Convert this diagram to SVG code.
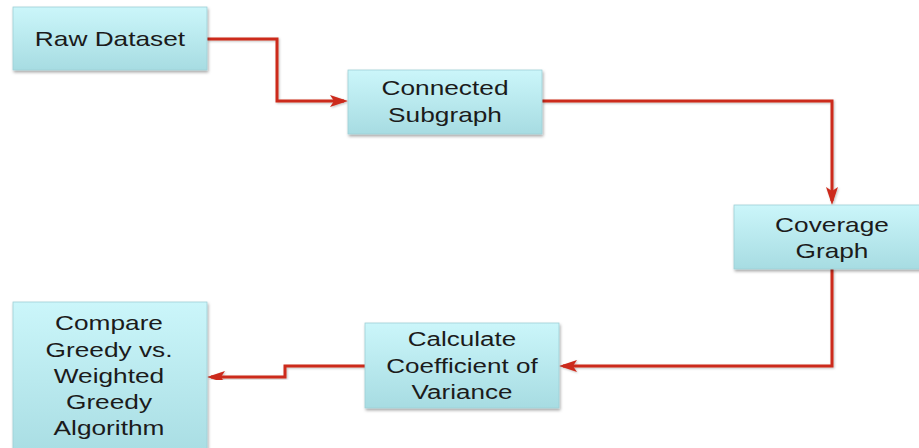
<svg xmlns="http://www.w3.org/2000/svg" width="919" height="448" viewBox="0 0 919 448">
  <defs>
    <linearGradient id="boxGrad" x1="0" y1="0" x2="0" y2="1">
      <stop offset="0" stop-color="#cbf6fa"/>
      <stop offset="1" stop-color="#a7dce2"/>
    </linearGradient>
    <filter id="shadow" x="-10%" y="-10%" width="130%" height="140%">
      <feDropShadow dx="1" dy="2" stdDeviation="1.5" flood-color="#000" flood-opacity="0.35"/>
    </filter>
    <filter id="lineShadow" x="-10%" y="-10%" width="130%" height="130%">
      <feDropShadow dx="1" dy="1" stdDeviation="0.8" flood-color="#000" flood-opacity="0.25"/>
    </filter>
    <marker id="arrow" markerUnits="userSpaceOnUse" markerWidth="20" markerHeight="14" viewBox="0 -7 18 14" refX="14" refY="0" orient="auto">
      <path d="M0,-6 L18,0 L0,6 L4,0 Z" fill="#cc2b1d"/>
    </marker>
  </defs>
  <style>
    .box { fill: url(#boxGrad); stroke: #9fcfd6; stroke-width: 0.8; filter: url(#shadow); }
    .label { font-family: "Liberation Sans", Arial, sans-serif; font-size: 21px; fill: #1b1b1b; text-anchor: middle; }
    .conn { fill: none; stroke: #cc2b1d; stroke-width: 3; stroke-linejoin: miter; marker-end: url(#arrow); filter: url(#lineShadow); }
  </style>
  <rect width="919" height="448" fill="#ffffff"/>

  <g id="connectors">
    <path class="conn" d="M207,39 H277 V101 H344"/>
    <path class="conn" d="M542,101 H832 V201"/>
    <path class="conn" d="M832,269 V366 H563"/>
    <path class="conn" d="M365,366 H285 V377 H211"/>
  </g>

  <g id="raw-dataset">
    <rect class="box" x="13" y="7" width="194" height="63"/>
    <text class="label" transform="translate(110,0) scale(1.25,1)"><tspan x="0" y="46.5">Raw Dataset</tspan></text>
  </g>

  <g id="connected-subgraph">
    <rect class="box" x="348" y="70" width="194" height="64"/>
    <text class="label" transform="translate(445,0) scale(1.25,1)"><tspan x="0" y="95.5">Connected</tspan><tspan x="0" y="122">Subgraph</tspan></text>
  </g>

  <g id="coverage-graph">
    <rect class="box" x="734" y="205" width="196" height="64"/>
    <text class="label" transform="translate(832,0) scale(1.25,1)"><tspan x="0" y="232.5">Coverage</tspan><tspan x="0" y="258.5">Graph</tspan></text>
  </g>

  <g id="calculate-cov">
    <rect class="box" x="365" y="323" width="194" height="85"/>
    <text class="label" transform="translate(462,0) scale(1.24,1)"><tspan x="0" y="346.5">Calculate</tspan><tspan x="0" y="373">Coefficient of</tspan><tspan x="0" y="399.5">Variance</tspan></text>
  </g>

  <g id="compare">
    <rect class="box" x="13" y="302" width="194" height="160"/>
    <text class="label" transform="translate(109,0) scale(1.25,1)"><tspan x="0" y="330.5">Compare</tspan><tspan x="0" y="357">Greedy vs.</tspan><tspan x="0" y="383.5">Weighted</tspan><tspan x="0" y="409.5">Greedy</tspan><tspan x="0" y="435.5">Algorithm</tspan></text>
  </g>
</svg>
